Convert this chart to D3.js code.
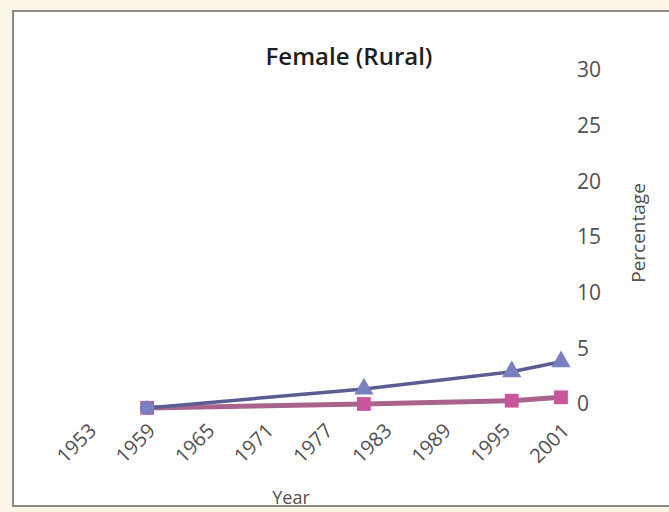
<!DOCTYPE html>
<html>
<head>
<meta charset="utf-8">
<script src="https://cdn.jsdelivr.net/npm/d3@7"></script>
<style>
  body { margin: 0; background: #fbf6e7; }
  svg { display: block; }
</style>
</head>
<body>
<div id="chart"></div>
<script>
'use strict';

/*** Data */
const years = [1959, 1981, 1996, 2001];
const seriesBlue = [-0.35, 1.35, 2.9, 3.8];
const seriesPink = [-0.35, 0.0, 0.3, 0.6];
const xTickYears = [1953, 1959, 1965, 1971, 1977, 1983, 1989, 1995, 2001];
const yTicks = [0, 5, 10, 15, 20, 25, 30];

/*** Dimensions */
const w = 669;
const h = 512;
const labelFont = "'Open Sans', 'Liberation Sans', sans-serif";
const labelColor = "#505050";

const svg = d3.select("#chart")
    .append("svg")
    .attr("width", w)
    .attr("height", h);

/* paper background + white card */
svg.append("rect")
    .attr("width", w).attr("height", h)
    .attr("fill", "#fbf6e7");
svg.append("rect")
    .attr("x", 13).attr("y", 11)
    .attr("width", w).attr("height", 495)
    .attr("fill", "#ffffff")
    .attr("stroke", "#8a8a86")
    .attr("stroke-width", 2);

/*** Scales */
const xScale = d3.scaleLinear()
    .domain([1953, 2001])
    .range([88, 561]);

const yScale = d3.scaleLinear()
    .domain([0, 30])
    .range([404, 70]);

/*** Title */
svg.append("text")
    .attr("x", 349).attr("y", 65)
    .attr("text-anchor", "middle")
    .attr("font-family", "'Open Sans', sans-serif")
    .attr("font-weight", 600)
    .attr("font-size", 24)
    .attr("fill", "#1e1e1e")
    .text("Female (Rural)");

/*** X axis */
const xAxis = d3.axisBottom(xScale)
    .tickValues(xTickYears)
    .tickFormat(d3.format("d"))
    .tickSize(0);

const gx = svg.append("g")
    .attr("transform", "translate(0,420)")
    .call(xAxis);
gx.select(".domain").remove();
gx.selectAll("text")
    .attr("font-family", labelFont)
    .attr("font-size", 20)
    .attr("fill", labelColor)
    .attr("text-anchor", "end")
    .attr("y", 0).attr("dy", 0)
    .attr("transform", "translate(9,12) rotate(-45)");

svg.append("text")
    .attr("x", 291).attr("y", 504)
    .attr("text-anchor", "middle")
    .attr("font-family", labelFont)
    .attr("font-size", 18)
    .attr("fill", labelColor)
    .text("Year");

/*** Y axis (right side) */
const yAxis = d3.axisRight(yScale)
    .tickValues(yTicks)
    .tickSize(0)
    .tickPadding(6);

const gy = svg.append("g")
    .attr("transform", "translate(571,0)")
    .call(yAxis);
gy.select(".domain").remove();
gy.selectAll("text")
    .attr("font-family", labelFont)
    .attr("font-size", 21)
    .attr("fill", labelColor);

svg.append("text")
    .attr("transform", "translate(645,233) rotate(-90)")
    .attr("text-anchor", "middle")
    .attr("font-family", labelFont)
    .attr("font-size", 19)
    .attr("fill", labelColor)
    .text("Percentage");

/*** Lines */
const line = d3.line()
    .x((d, i) => xScale(years[i]))
    .y(d => yScale(d));

svg.append("path")
    .datum(seriesPink)
    .attr("d", line)
    .attr("fill", "none")
    .attr("stroke", "#a8648c")
    .attr("stroke-width", 5);

svg.append("path")
    .datum(seriesBlue)
    .attr("d", line)
    .attr("fill", "none")
    .attr("stroke", "#5a5d92")
    .attr("stroke-width", 3.5);

/* markers */
svg.selectAll(".sq")
    .data(seriesPink)
    .enter().append("path")
    .attr("class", "sq")
    .attr("transform", (d, i) => "translate(" + xScale(years[i]) + "," + yScale(d) + ")")
    .attr("d", d3.symbol(d3.symbolSquare, 190))
    .attr("fill", "#c9559b");

svg.selectAll(".tri")
    .data(seriesBlue)
    .enter().append("path")
    .attr("class", "tri")
    .attr("transform", (d, i) => "translate(" + xScale(years[i]) + "," + yScale(d) + ")")
    .attr("d", (d, i) => i === 0 ? d3.symbol(d3.symbolCircle, 170)() : d3.symbol(d3.symbolTriangle, 160)())
    .attr("fill", "#7a7fc0");
</script>
</body>
</html>
